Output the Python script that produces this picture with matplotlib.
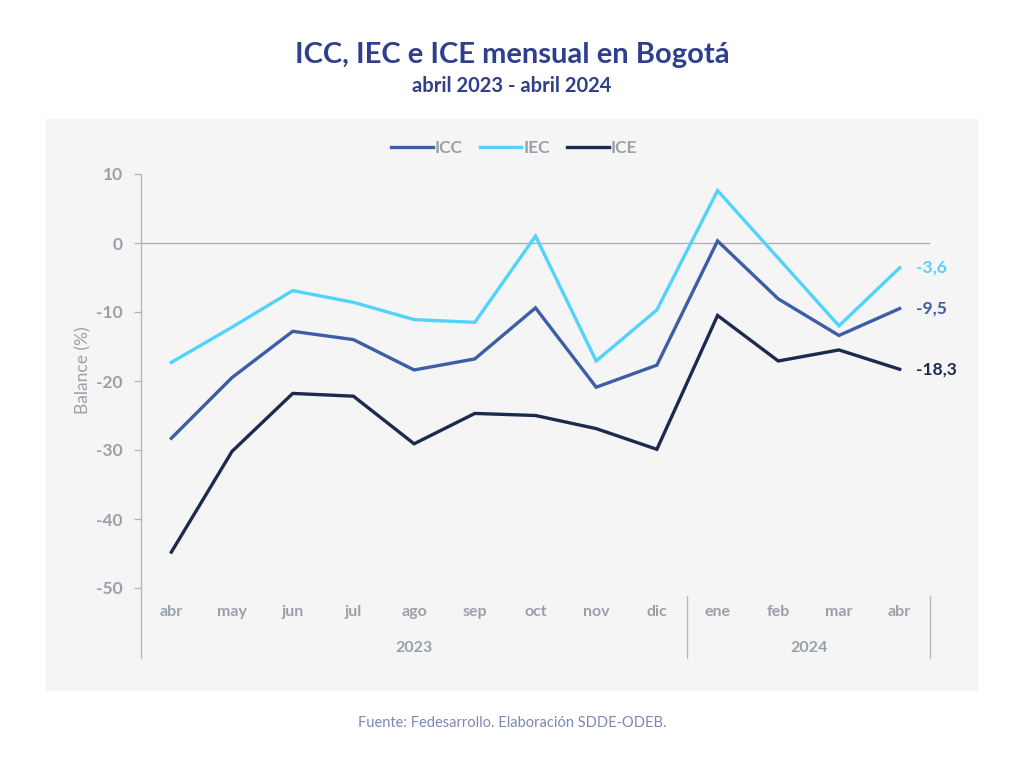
import matplotlib
matplotlib.use("Agg")
import matplotlib.pyplot as plt
from matplotlib.patches import Rectangle
from matplotlib.lines import Line2D

plt.rcParams['font.family'] = ['Lato', 'DejaVu Sans']

months = ["abr", "may", "jun", "jul", "ago", "sep", "oct", "nov", "dic",
          "ene", "feb", "mar", "abr"]
years = ["2023", "2024"]
year_spans = [(0, 8), (9, 12)]
icc = [-28.3, -19.5, -12.8, -14.0, -18.4, -16.8, -9.4, -20.9, -17.7, 0.3, -8.1, -13.4, -9.5]
iec = [-17.3, -12.2, -6.9, -8.6, -11.1, -11.5, 1.0, -17.1, -9.7, 7.6, -2.2, -12.0, -3.6]
ice = [-44.8, -30.2, -21.8, -22.2, -29.1, -24.7, -25.0, -26.9, -29.9, -10.5, -17.1, -15.5, -18.3]
yticks = [10, 0, -10, -20, -30, -40, -50]

c_icc = "#3d5da6"
c_iec = "#52d3fb"
c_ice = "#1d2a50"
gray = "#9aa0a9"
title_c = "#2f3f8c"

W, H = 1024, 773
fig = plt.figure(figsize=(W / 100, H / 100), dpi=100)
fig.patch.set_facecolor("white")

# panel background
bg = Rectangle((46 / W, 1 - 691 / H), (978 - 46) / W, (691 - 119) / H,
               transform=fig.transFigure, facecolor="#f5f5f5", edgecolor="none", zorder=-5)
fig.patches.append(bg)

left, right = 141 / W, 930 / W
top, bottom = 1 - 174 / H, 1 - 588 / H
ax = fig.add_axes([left, bottom, right - left, top - bottom])
ax.set_facecolor("none")
ax.set_zorder(2)

x = list(range(len(months)))
ax.plot(x, icc, color=c_icc, lw=2.4, label="ICC", solid_joinstyle="miter", zorder=3)
ax.plot(x, iec, color=c_iec, lw=2.4, label="IEC", solid_joinstyle="miter", zorder=3)
ax.plot(x, ice, color=c_ice, lw=2.4, label="ICE", solid_joinstyle="miter", zorder=3)

ax.set_xlim(-0.5, len(months) - 0.5)
ax.set_ylim(-50, 10)
ax.axhline(0, color="#a9adb4", lw=0.9, zorder=2)

for s in ["top", "right", "bottom"]:
    ax.spines[s].set_visible(False)
ax.spines["left"].set_color("#b5b9bf")
ax.spines["left"].set_linewidth(1.0)

ax.set_yticks(yticks)
ax.set_yticklabels([str(v) for v in yticks])
ax.tick_params(axis="y", colors="#b5b9bf", labelcolor=gray, labelsize=12.5,
               length=5, width=1.0, pad=8)
for t in ax.get_yticklabels():
    t.set_fontweight("bold")
ax.set_xticks([])

fig.text(83 / W, 1 - 370 / H, "Balance (%)", rotation=90, ha="center", va="center",
         color=gray, fontsize=12.5)

# category axis below
for xi, lab in zip(x, months):
    fig.text(ax.transData.transform((xi, 0))[0] / W, 1 - 612 / H, lab,
             ha="center", va="center", color=gray, fontsize=11.5, fontweight="bold")
for (a, b), yr in zip(year_spans, years):
    xc = (a + b) / 2
    fig.text(ax.transData.transform((xc, 0))[0] / W, 1 - 648 / H, yr,
             ha="center", va="center", color=gray, fontsize=11.5, fontweight="bold")

# separators
for xs, y0 in [(-0.5, 588), (8.5, 596), (12.5, 596)]:
    px = ax.transData.transform((xs, 0))[0] / W
    fig.lines.append(Line2D([px, px], [1 - y0 / H, 1 - 658 / H], transform=fig.transFigure,
                            color="#b5b9bf", lw=1.0))

# end labels
ends = [(iec[-1], c_iec), (icc[-1], c_icc), (ice[-1], c_ice)]
for v, c in ends:
    ax.annotate(f"{v:.1f}".replace(".", ","), xy=(len(months) - 1, v),
                xytext=(12, 0), textcoords="offset points", ha="left", va="center",
                color=c, fontsize=12.5, fontweight="bold", annotation_clip=False)

leg = fig.legend(loc="center", bbox_to_anchor=(514 / W, 1 - 148 / H), ncol=3,
                 frameon=False, handlelength=2.4, handletextpad=0.1,
                 columnspacing=1.0, labelcolor=gray,
                 prop={"weight": "bold", "size": 12.5})

fig.text(0.5, 1 - 55 / H, "ICC, IEC e ICE mensual en Bogotá", ha="center", va="center",
         color=title_c, fontsize=21, fontweight="bold")
fig.text(0.5, 1 - 86 / H, "abril 2023 - abril 2024", ha="center", va="center",
         color=title_c, fontsize=14.5, fontweight="bold")
fig.text(0.5, 1 - 723 / H, "Fuente: Fedesarrollo. Elaboración SDDE-ODEB.", ha="center",
         va="center", color="#7f86b8", fontsize=10.5)

fig.savefig("out.png", dpi=100)
